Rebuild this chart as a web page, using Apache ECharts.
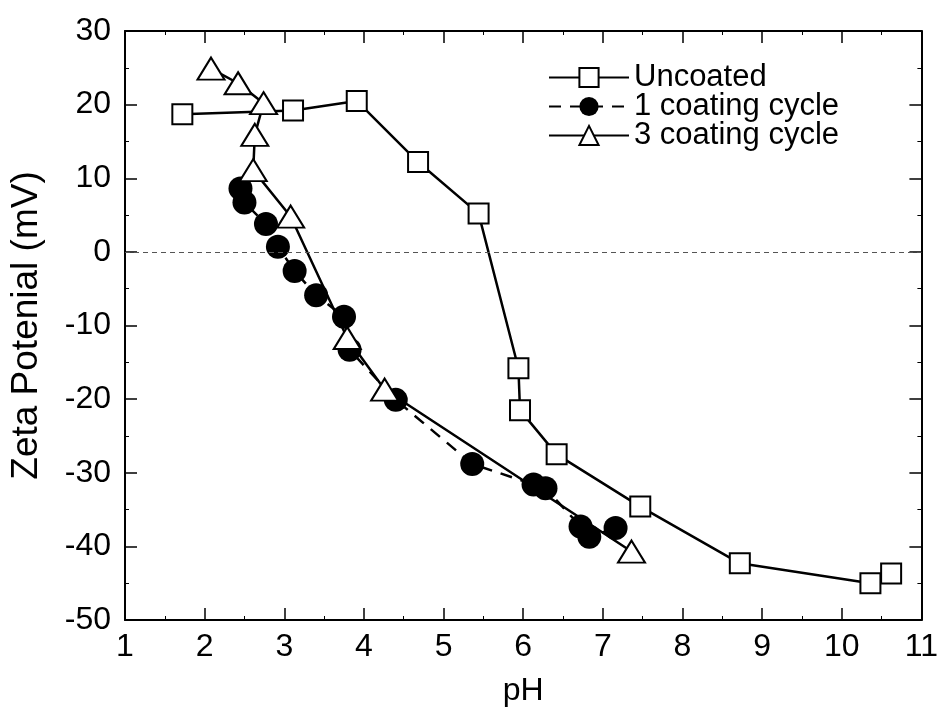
<!DOCTYPE html>
<html>
<head>
<meta charset="utf-8">
<script src="https://cdn.jsdelivr.net/npm/echarts@6/dist/echarts.min.js"></script>
<style>
html,body{margin:0;padding:0;background:#fff;}
#chart{width:941px;height:720px;}
</style>
</head>
<body>
<div id="chart"></div>
<script>
// ---- Data ----
var seriesNames = ['Uncoated', '1 coating cycle', '3 coating cycle'];

var uncoatedPH   = [1.72, 3.11, 3.91, 4.68, 5.44, 5.94, 5.96, 6.42, 7.47, 8.72, 10.36, 10.62];
var uncoatedZeta = [18.7, 19.2, 20.5, 12.2, 5.2, -15.8, -21.5, -27.5, -34.6, -42.3, -45.0, -43.7];

var coat1PH   = [2.45, 2.50, 2.77, 2.92, 3.13, 3.40, 3.75, 3.82, 4.40, 5.36, 6.13, 6.28, 6.72, 6.83, 7.16];
var coat1Zeta = [8.6, 6.7, 3.8, 0.7, -2.6, -5.9, -8.8, -13.3, -20.1, -28.8, -31.6, -32.1, -37.3, -38.7, -37.5];

var coat3PH   = [2.08, 2.42, 2.74, 2.63, 2.61, 3.08, 3.79, 4.26, 7.36];
var coat3Zeta = [24.9, 22.9, 20.2, 15.9, 11.1, 4.8, -11.7, -18.7, -40.7];

var xTicks = {min: 1, max: 11, step: 1};
var yTicks = {min: -50, max: 30, step: 10};
var xName = 'pH';
var yName = 'Zeta Potenial (mV)';

function pairs(xs, ys) {
  var out = [];
  for (var i = 0; i < xs.length; i++) out.push([xs[i], ys[i]]);
  return out;
}

var FONT = "'Liberation Sans', Arial, sans-serif";
var chart = echarts.init(document.getElementById('chart'), null, {renderer: 'canvas'});

function axisCommon(showLabel) {
  return {
    axisLine: {show: true, onZero: false, lineStyle: {color: '#000', width: 2}},
    axisTick: {show: true, inside: true, length: 12, lineStyle: {color: '#000', width: 1.5}},
    minorTick: {show: true, splitNumber: 2, length: 4, lineStyle: {color: '#000', width: 1}},
    splitLine: {show: false},
    axisLabel: {show: showLabel, color: '#000', fontSize: 32, fontFamily: FONT}
  };
}

var xBottom = Object.assign(axisCommon(true), {
  type: 'value', position: 'bottom', min: xTicks.min, max: xTicks.max, interval: xTicks.step,
  name: xName, nameLocation: 'middle', nameGap: 55,
  nameTextStyle: {color: '#000', fontSize: 32, fontFamily: FONT}
});
xBottom.axisLabel.margin = 11;
var xTop = Object.assign(axisCommon(false), {
  type: 'value', position: 'top', min: xTicks.min, max: xTicks.max, interval: xTicks.step
});
var yLeft = Object.assign(axisCommon(true), {
  type: 'value', position: 'left', min: yTicks.min, max: yTicks.max, interval: yTicks.step,
  name: yName, nameLocation: 'middle', nameGap: 80,
  nameTextStyle: {color: '#000', fontSize: 37, fontFamily: FONT}
});
yLeft.axisLabel.margin = 14;
var yRight = Object.assign(axisCommon(false), {
  type: 'value', position: 'right', min: yTicks.min, max: yTicks.max, interval: yTicks.step
});

var option = {
  backgroundColor: '#fff',
  animation: false,
  grid: {left: 124, right: 18, top: 31, bottom: 100, containLabel: false},
  xAxis: [xBottom, xTop],
  yAxis: [yLeft, yRight],
  legend: {
    orient: 'vertical',
    left: 548, top: 62, padding: 0,
    itemWidth: 80, itemHeight: 24, itemGap: -2,
    textStyle: {color: '#000', fontSize: 31, fontFamily: FONT},
    data: seriesNames
  },
  series: [
    {
      name: seriesNames[0], type: 'line', xAxisIndex: 0, yAxisIndex: 0,
      data: pairs(uncoatedPH, uncoatedZeta),
      symbol: 'rect', symbolSize: 20,
      itemStyle: {color: '#fff', borderColor: '#000', borderWidth: 2},
      lineStyle: {color: '#000', width: 2.5},
      z: 2,
      markLine: {
        silent: true, symbol: 'none', label: {show: false},
        lineStyle: {color: '#555', width: 1, type: [5, 4]},
        data: [{yAxis: 0}]
      }
    },
    {
      name: seriesNames[1], type: 'line', xAxisIndex: 0, yAxisIndex: 0,
      data: pairs(coat1PH, coat1Zeta),
      symbol: 'circle', symbolSize: 24,
      itemStyle: {color: '#000', borderColor: '#000', borderWidth: 0},
      lineStyle: {color: '#000', width: 2.5, type: [12, 9]},
      z: 3
    },
    {
      name: seriesNames[2], type: 'line', xAxisIndex: 0, yAxisIndex: 0,
      data: pairs(coat3PH, coat3Zeta),
      symbol: 'triangle', symbolSize: [27, 22],
      itemStyle: {color: '#fff', borderColor: '#000', borderWidth: 2},
      lineStyle: {color: '#000', width: 2.5},
      z: 4
    }
  ]
};
chart.setOption(option);
</script>
</body>
</html>
